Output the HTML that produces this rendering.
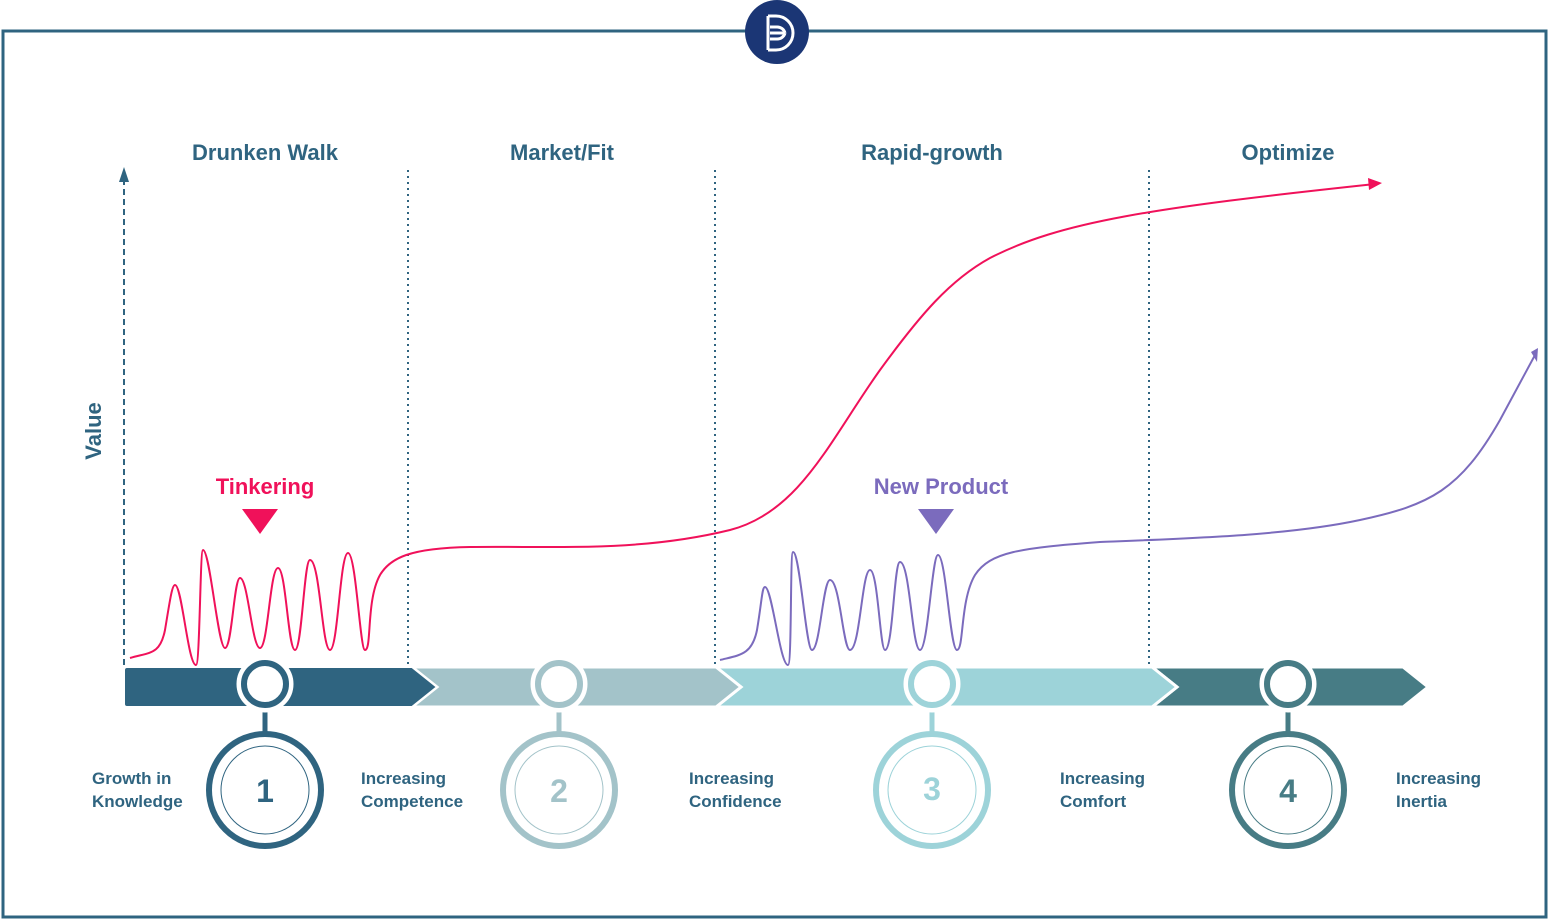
<!DOCTYPE html>
<html><head><meta charset="utf-8"><style>
html,body{margin:0;padding:0;background:#fff;}
svg{display:block;font-family:"Liberation Sans",Arial,sans-serif;}
</style></head><body>
<svg width="1549" height="920" viewBox="0 0 1549 920">
<rect x="3" y="31" width="1543" height="886" fill="none" stroke="#2f6480" stroke-width="3"/>
<circle cx="777" cy="32" r="32" fill="#1b3675"/>
<g fill="none" stroke="#fff" stroke-width="3">
<path d="M768 16 V50 M768 16 H776 A17 17 0 0 1 776 50 H768"/>
<path d="M770 27 H777 A8 8 0 0 1 785 33 M770 33 H785 M770 39 H777 A8 8 0 0 0 785 33"/>
</g>
<g font-size="22" font-weight="bold" fill="#2f6480" text-anchor="middle">
<text x="265" y="160">Drunken Walk</text>
<text x="562" y="160">Market/Fit</text>
<text x="932" y="160">Rapid-growth</text>
<text x="1288" y="160">Optimize</text>
</g>
<text transform="translate(101,431) rotate(-90)" font-size="22" font-weight="bold" fill="#2f6480" text-anchor="middle">Value</text>
<line x1="124" y1="665" x2="124" y2="175" stroke="#2f6480" stroke-width="2" stroke-dasharray="6,4"/>
<path d="M119 182 L124 167 L129 182 Z" fill="#2f6480"/>
<g stroke="#2f6480" stroke-width="2" stroke-dasharray="2,4">
<line x1="408" y1="170" x2="408" y2="665"/>
<line x1="715" y1="170" x2="715" y2="665"/>
<line x1="1149" y1="170" x2="1149" y2="665"/>
</g>
<path d="M1152 667 H1403 L1428 687 L1403 707 H1152 L1177 687 Z" fill="#477c85" stroke="#fff" stroke-width="3"/>
<path d="M716 667 H1152 L1177 687 L1152 707 H716 L741 687 Z" fill="#9dd3d9" stroke="#fff" stroke-width="3"/>
<path d="M412 667 H716 L741 687 L716 707 H412 L437 687 Z" fill="#a3c3c9" stroke="#fff" stroke-width="3"/>
<path d="M127 667 H412 L437 687 L412 707 H127 Q124 707 124 704 V670 Q124 667 127 667 Z" fill="#2f6480" stroke="#fff" stroke-width="2"/>
<g stroke-width="5">
<g stroke="#2f6480"><line x1="265" y1="705" x2="265" y2="735"/><circle cx="265" cy="684" r="26" fill="#fff" stroke="#fff"/><circle cx="265" cy="684" r="21" fill="#fff" stroke-width="6"/>
<circle cx="265" cy="790" r="56" fill="#fff" stroke-width="6"/><circle cx="265" cy="790" r="44" fill="none" stroke-width="1"/></g>
<g stroke="#a3c3c9"><line x1="559" y1="705" x2="559" y2="735"/><circle cx="559" cy="684" r="26" fill="#fff" stroke="#fff"/><circle cx="559" cy="684" r="21" fill="#fff" stroke-width="6"/>
<circle cx="559" cy="790" r="56" fill="#fff" stroke-width="6"/><circle cx="559" cy="790" r="44" fill="none" stroke-width="1"/></g>
<g stroke="#9dd3d9"><line x1="932" y1="705" x2="932" y2="735"/><circle cx="932" cy="684" r="26" fill="#fff" stroke="#fff"/><circle cx="932" cy="684" r="21" fill="#fff" stroke-width="6"/>
<circle cx="932" cy="790" r="56" fill="#fff" stroke-width="6"/><circle cx="932" cy="790" r="44" fill="none" stroke-width="1"/></g>
<g stroke="#477c85"><line x1="1288" y1="705" x2="1288" y2="735"/><circle cx="1288" cy="684" r="26" fill="#fff" stroke="#fff"/><circle cx="1288" cy="684" r="21" fill="#fff" stroke-width="6"/>
<circle cx="1288" cy="790" r="56" fill="#fff" stroke-width="6"/><circle cx="1288" cy="790" r="44" fill="none" stroke-width="1"/></g>
</g>
<g font-size="32" font-weight="bold" text-anchor="middle">
<text x="265" y="802" fill="#2f6480">1</text>
<text x="559" y="802" fill="#a3c3c9">2</text>
<text x="932" y="800" fill="#9dd3d9">3</text>
<text x="1288" y="802" fill="#477c85">4</text>
</g>
<g font-size="17" font-weight="bold" fill="#2f6480">
<text x="92" y="784">Growth in</text><text x="92" y="807">Knowledge</text>
<text x="361" y="784">Increasing</text><text x="361" y="807">Competence</text>
<text x="689" y="784">Increasing</text><text x="689" y="807">Confidence</text>
<text x="1060" y="784">Increasing</text><text x="1060" y="807">Comfort</text>
<text x="1396" y="784">Increasing</text><text x="1396" y="807">Inertia</text>
</g>
<path fill="none" stroke="#f0115a" stroke-width="2" d="M130 658 C150 652 160 655 165 630 C170 600 172 585 175 585 C182 585 188 665 196 665 C200 665 200 550 203 550 C210 550 218 648 225 648 C232 648 234 578 240 578 C248 578 252 648 260 648 C268 648 270 568 278 568 C286 568 288 650 295 650 C302 650 304 560 310 560 C320 560 322 650 330 650 C338 650 340 553 348 553 C356 553 360 650 365 650 C372 650 366 600 380 575 C390 558 410 548 470 547 C560 546 640 552 730 530 C800 512 830 440 880 370 C920 315 950 280 990 258 C1060 222 1150 208 1375 184"/>
<path d="M1368 178 L1382 183 L1369 190 Z" fill="#f0115a"/>
<path fill="none" stroke="#7b6bbd" stroke-width="2" d="M720 660 C740 655 752 655 757 630 C762 600 762 587 765 587 C772 587 780 665 788 665 C792 665 790 552 793 552 C800 552 806 650 812 650 C820 650 823 580 830 580 C840 580 843 650 850 650 C860 650 862 570 870 570 C878 570 880 650 885 650 C893 650 894 562 900 562 C910 562 912 650 920 650 C928 650 932 555 938 555 C946 555 950 650 957 650 C964 650 960 600 975 575 C990 552 1020 548 1100 542 C1200 538 1290 535 1360 520 C1430 505 1460 490 1500 420 L1535 355"/>
<path d="M1531 352 L1538 348 L1537 362 Z" fill="#7b6bbd"/>
<text x="265" y="494" font-size="22" font-weight="bold" fill="#f0115a" text-anchor="middle">Tinkering</text>
<path d="M242 509 H278 L260 534 Z" fill="#f0115a"/>
<text x="941" y="494" font-size="22" font-weight="bold" fill="#7b6bbd" text-anchor="middle">New Product</text>
<path d="M918 509 H954 L936 534 Z" fill="#7b6bbd"/>
</svg>
</body></html>
